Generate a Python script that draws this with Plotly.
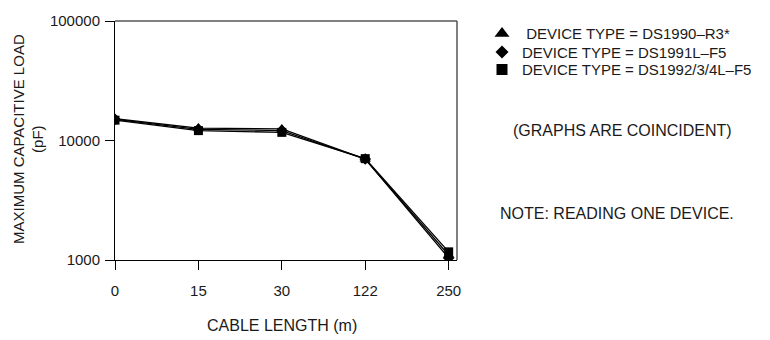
import plotly.graph_objects as go

cable_length = ["0", "15", "30", "122", "250"]
ds1990_r3 = [15200, 12700, 12500, 7000, 1100]
ds1991l_f5 = [15000, 12400, 12100, 7000, 1040]
ds1992_f5 = [14800, 12100, 11700, 7050, 1170]

series = [
    (" DEVICE TYPE = DS1990–R3*", ds1990_r3, "triangle-up", 10, 13),
    ("DEVICE TYPE = DS1991L–F5", ds1991l_f5, "diamond", 9, 10),
    ("DEVICE TYPE = DS1992/3/4L–F5", ds1992_f5, "square", 9, 11),
]

FONT = "Liberation Sans, Arial, sans-serif"
TXT = "#1a1a1a"
W, H = 770, 340
ML, MR, MT, MB = 115, 313, 15, 80
PW, PH = W - ML - MR, H - MT - MB


def px(x):
    return (x - ML) / PW


def py(y):
    return (H - MB - y) / PH


legend_rows = [28, 47, 65]
legend_ids = ["legend", "legend2", "legend3"]

fig = go.Figure()
for name, vals, sym, sz, lsz in series:
    fig.add_trace(go.Scatter(
        x=cable_length, y=vals, mode="lines+markers",
        line=dict(color="black", width=1.3),
        marker=dict(symbol=sym, size=sz, color="black"),
        showlegend=False, name=name,
    ))
for (name, vals, sym, sz, lsz), lid in zip(series, legend_ids):
    fig.add_trace(go.Scatter(
        x=[None], y=[None], mode="markers",
        marker=dict(symbol=sym, size=lsz, color="black"),
        showlegend=True, name=name, legend=lid,
    ))

legend_layout = {}
for lid, row in zip(legend_ids, legend_rows):
    legend_layout[lid] = dict(
        x=px(482), y=py(row), xanchor="left", yanchor="middle",
        font=dict(size=15, color=TXT), bgcolor="rgba(0,0,0,0)",
    )

fig.update_layout(
    width=W, height=H,
    margin=dict(l=ML, r=MR, t=MT, b=MB),
    paper_bgcolor="white", plot_bgcolor="white",
    font=dict(family=FONT, size=15, color=TXT),
    xaxis=dict(
        type="category", range=[0, 4.1],
        showline=True, linecolor="black", linewidth=1,
        ticks="outside", ticklen=9, tickcolor="black",
        showgrid=False, zeroline=False,
        tickfont=dict(size=15, color=TXT), ticklabelstandoff=8,
    ),
    yaxis=dict(
        type="log", range=[3, 5],
        tickvals=[1000, 10000, 100000], ticktext=["1000", "10000", "100000"],
        showline=True, linecolor="black", linewidth=1,
        ticks="outside", ticklen=9, tickcolor="black",
        showgrid=False, zeroline=False,
        tickfont=dict(size=15, color=TXT), ticklabelstandoff=2,
    ),
    shapes=[
        dict(type="line", xref="paper", yref="paper", x0=0, x1=1, y0=1, y1=1,
             line=dict(color="#808080", width=2)),
        dict(type="line", xref="paper", yref="paper", x0=1, x1=1, y0=0, y1=1,
             line=dict(color="#555555", width=1.5)),
    ],
    annotations=[
        dict(text="CABLE LENGTH (m)", xref="paper", yref="paper",
             x=px(282), y=py(327), showarrow=False,
             font=dict(size=16, color=TXT), xanchor="center", yanchor="middle"),
        dict(text="MAXIMUM CAPACITIVE LOAD<br>(pF)", xref="paper", yref="paper",
             x=px(28), y=py(136), showarrow=False, textangle=-90,
             font=dict(size=15, color=TXT), xanchor="center", yanchor="middle"),
        dict(text="(GRAPHS ARE COINCIDENT)", xref="paper", yref="paper",
             x=px(622), y=py(127), showarrow=False,
             font=dict(size=16, color=TXT), xanchor="center", yanchor="middle"),
        dict(text="NOTE: READING ONE DEVICE.", xref="paper", yref="paper",
             x=px(498), y=py(212), showarrow=False,
             font=dict(size=16, color=TXT), xanchor="left", yanchor="middle"),
    ],
    **legend_layout,
)

fig.write_html("out.html")
